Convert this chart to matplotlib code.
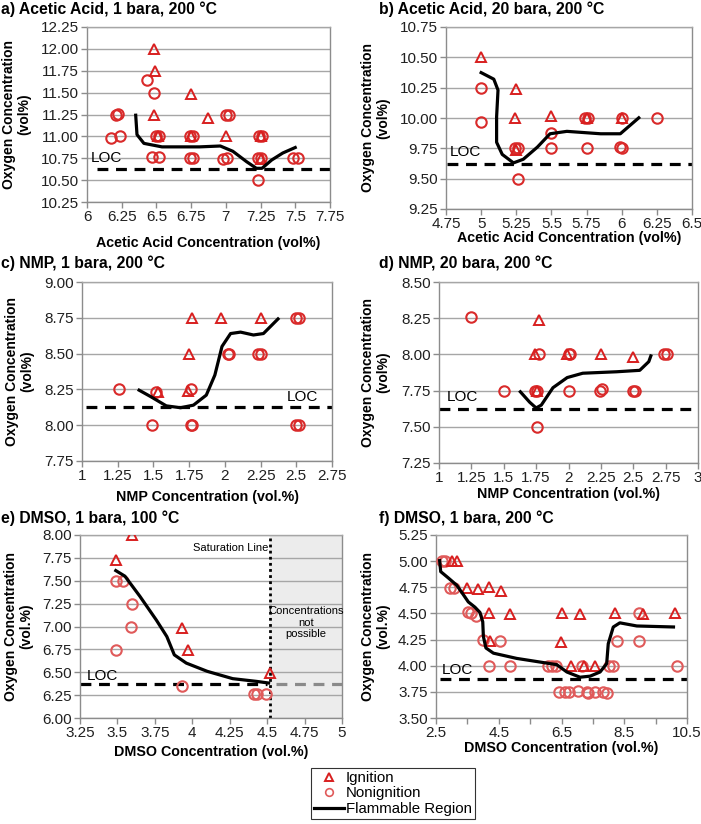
import matplotlib
matplotlib.use('Agg')
import matplotlib.pyplot as plt
from matplotlib.lines import Line2D
from matplotlib.ticker import FixedLocator, FuncFormatter

plt.rcParams['font.family'] = ['Liberation Sans', 'DejaVu Sans']

# a) Acetic acid, 1 bara
a_ign_x = [6.48, 6.49, 6.48, 6.51, 6.75, 6.75, 6.87, 7.0, 7.25, 7.25]
a_ign_y = [12.0, 11.75, 11.25, 11.0, 11.49, 11.0, 11.21, 11.0, 11.0, 10.74]
a_non_x = [6.17, 6.24, 6.21, 6.22, 6.43, 6.48, 6.5, 6.52, 6.47, 6.52, 6.74, 6.76, 6.74,
           6.76, 7.0, 7.02, 6.98, 7.01, 7.24, 7.26, 7.23, 7.25, 7.23, 7.48, 7.52]
a_non_y = [10.98, 11.0, 11.25, 11.26, 11.64, 11.5, 11.0, 11.0, 10.76, 10.76, 11.0, 11.0, 10.75,
           10.75, 11.25, 11.25, 10.74, 10.75, 11.0, 11.0, 10.75, 10.75, 10.5, 10.75, 10.75]
a_curve_x = [6.35, 6.36, 6.41, 6.54, 6.81, 6.96, 7.05, 7.15, 7.22, 7.26, 7.33, 7.41, 7.51]
a_curve_y = [11.26, 11.02, 10.92, 10.88, 10.88, 10.89, 10.83, 10.71, 10.635, 10.635, 10.73, 10.81, 10.88]
a_loc = 10.625

# b) Acetic acid, 20 bara
b_ign_x = [5.0, 5.25, 5.24, 5.25, 5.5, 5.75, 6.0]
b_ign_y = [10.5, 10.24, 10.0, 9.74, 10.02, 10.0, 10.0]
b_non_x = [5.0, 5.0, 5.24, 5.26, 5.26, 5.5, 5.5, 5.74, 5.76, 5.75, 6.0, 5.99, 6.0, 6.25]
b_non_y = [10.25, 9.97, 9.75, 9.75, 9.5, 9.88, 9.75, 10.0, 10.0, 9.75, 10.0, 9.76, 9.75, 10.0]
b_curve_x = [4.99, 5.09, 5.12, 5.11, 5.11, 5.15, 5.23, 5.3, 5.4, 5.49, 5.61, 5.85, 5.99, 6.06, 6.13]
b_curve_y = [10.38, 10.32, 10.23, 10.01, 9.8, 9.7, 9.63, 9.66, 9.76, 9.87, 9.89, 9.87, 9.87, 9.94, 10.01]
b_loc = 9.625

# c) NMP, 1 bara
c_ign_x = [1.53, 1.77, 1.75, 1.74, 1.97, 2.25]
c_ign_y = [8.235, 8.75, 8.5, 8.24, 8.75, 8.75]
c_non_x = [1.26, 1.49, 1.52, 1.76, 1.76, 1.77, 2.02, 2.03, 2.23, 2.25, 2.5, 2.52, 2.5, 2.52]
c_non_y = [8.25, 8.0, 8.23, 8.25, 8.0, 8.0, 8.5, 8.5, 8.5, 8.5, 8.75, 8.75, 8.0, 8.0]
c_curve_x = [1.39, 1.48, 1.59, 1.69, 1.78, 1.87, 1.93, 1.98, 2.04, 2.11, 2.2, 2.27, 2.32, 2.38]
c_curve_y = [8.25, 8.2, 8.135, 8.122, 8.14, 8.21, 8.35, 8.55, 8.64, 8.65, 8.63, 8.64, 8.69, 8.75]
c_loc = 8.125

# d) NMP, 20 bara
d_ign_x = [1.77, 1.74, 1.76, 1.99, 2.25, 2.5]
d_ign_y = [8.24, 8.0, 7.745, 8.0, 8.0, 7.98]
d_non_x = [1.25, 1.77, 1.5, 1.74, 1.76, 1.755, 2.0, 2.01, 2.0, 2.24, 2.26, 2.5, 2.51, 2.74, 2.76]
d_non_y = [8.255, 8.0, 7.75, 7.75, 7.75, 7.5, 8.0, 8.0, 7.75, 7.75, 7.76, 7.75, 7.75, 8.0, 8.0]
d_curve_x = [1.62, 1.70, 1.75, 1.79, 1.88, 1.99, 2.11, 2.37, 2.55, 2.62, 2.64]
d_curve_y = [7.75, 7.67, 7.63, 7.65, 7.77, 7.84, 7.87, 7.88, 7.89, 7.95, 8.0]
d_loc = 7.625

# e) DMSO, 1 bara, 100 C
e_ign_x = [3.6, 3.49, 3.93, 3.97, 4.52]
e_ign_y = [8.0, 7.73, 6.98, 6.74, 6.49]
e_non_x = [3.49, 3.54, 3.6, 3.59, 3.49, 3.93, 4.41, 4.43, 4.49]
e_non_y = [7.5, 7.5, 7.25, 7.0, 6.74, 6.35, 6.26, 6.26, 6.26]
e_curve_x = [3.48, 3.55, 3.65, 3.76, 3.83, 3.88, 3.96, 4.1, 4.27, 4.43, 4.52]
e_curve_y = [7.62, 7.55, 7.33, 7.07, 6.89, 6.69, 6.6, 6.51, 6.43, 6.4, 6.38]
e_loc = 6.375
e_saturation = 4.52

# f) DMSO, 1 bara, 200 C
f_ign_x = [3.0, 3.18, 3.5, 3.85, 4.2, 4.58, 4.2, 4.85, 4.22, 6.52, 7.08, 8.21, 9.11, 10.13,
           6.47, 6.81, 7.22, 7.57]
f_ign_y = [5.0, 5.0, 4.74, 4.73, 4.75, 4.71, 4.5, 4.49, 4.24, 4.5, 4.49, 4.5, 4.49, 4.5,
           4.23, 4.0, 4.0, 4.0]
f_non_x = [2.7, 2.8, 2.95, 3.07, 3.53, 3.62, 3.77, 3.99, 4.54, 4.19, 4.85, 6.06, 6.19, 6.33,
           7.14, 8.02, 8.15, 10.17, 8.28, 8.98, 8.97, 6.43, 6.61, 6.75, 7.02, 7.3, 7.33, 7.57,
           7.83, 7.94]
f_non_y = [5.0, 5.0, 4.74, 4.74, 4.51, 4.5, 4.48, 4.25, 4.24, 4.0, 4.0, 4.0, 4.0, 4.0,
           4.0, 4.0, 4.0, 4.0, 4.24, 4.24, 4.5, 3.75, 3.75, 3.75, 3.76, 3.75, 3.74, 3.75,
           3.75, 3.74]
f_curve_x = [2.61, 2.65, 2.89, 3.16, 3.37, 3.53, 3.74, 3.9, 3.99, 4.01, 4.09, 4.33, 5.07,
             6.35, 6.67, 7.09, 7.41, 7.73, 7.94, 7.99, 8.15, 8.36, 8.9, 10.12]
f_curve_y = [5.02, 4.9, 4.84, 4.77, 4.68, 4.61, 4.56, 4.51, 4.42, 4.28, 4.17, 4.12, 4.07,
             4.01, 3.94, 3.89, 3.9, 3.94, 4.02, 4.21, 4.37, 4.41, 4.38, 4.37]
f_loc = 3.875

IGN = '#d81f1f'
NON = '#d92a2a'
NON_LIGHT = '#e05a5a'
GRID = '#a6a6a6'
SPINE = '#8c8c8c'

W, H = 701, 824
fig = plt.figure(figsize=(W / 100, H / 100), dpi=100)


def px_axes(left, top, right, bottom):
    return fig.add_axes([left / W, 1 - bottom / H, (right - left) / W, (bottom - top) / H])


def gfmt(v, pos):
    return '%g' % v


def setup(ax, xlim, xticks, ylim, yticks, xlabel, ylabel, ylab_px, xlab_px):
    ax.set_xlim(*xlim)
    ax.set_ylim(*ylim)
    ax.set_xticks(xticks)
    ax.set_yticks(yticks)
    ax.xaxis.set_major_formatter(FuncFormatter(gfmt))
    ax.yaxis.set_major_formatter(FuncFormatter(lambda v, p: '%.2f' % v))
    ax.yaxis.grid(True, color=GRID, lw=1)
    ax.set_axisbelow(True)
    for s in ax.spines.values():
        s.set_color(SPINE)
        s.set_linewidth(1)
    ax.spines['top'].set_color(GRID)
    ax.tick_params(direction='out', length=4, width=1, color=SPINE, labelsize=11,
                   pad=2, labelcolor='#202020')
    bb = ax.get_position()
    ax.set_ylabel(ylabel, fontsize=10, fontweight='bold', linespacing=1.1, va='center')
    ax.yaxis.set_label_coords(-ylab_px / (bb.width * W), 0.5)
    ax.set_xlabel(xlabel, fontsize=10.3, fontweight='bold', va='center')
    ax.xaxis.set_label_coords(0.5, -xlab_px / (bb.height * H))


def marks(ax, ix, iy, nx, ny, ncol=NON):
    ax.plot(nx, ny, 'o', ms=7.5, mfc='none', mec=ncol, mew=1.5, zorder=3)
    ax.plot(ix, iy, '^', ms=7.5, mfc='none', mec=IGN, mew=1.4, zorder=3)


def curve(ax, cx, cy):
    ax.plot(cx, cy, color='black', lw=2.3, solid_joinstyle='round', solid_capstyle='butt', zorder=4)


def loc_line(ax, x0, x1, y, color='black'):
    ax.plot([x0, x1], [y, y], color=color, lw=2.3, dashes=(3.4, 2.4), zorder=2)


def title(x, y, s):
    fig.text(x / W, 1 - y / H, s, fontsize=11.3, fontweight='bold', ha='left', va='center')


OXY = 'Oxygen Concentration\n(vol%)'
OXY2 = 'Oxygen Concentration\n(vol.%)'

# a
ax = px_axes(87, 27, 330, 202)
setup(ax, (6, 7.75), [6, 6.25, 6.5, 6.75, 7, 7.25, 7.5, 7.75], (10.25, 12.25),
      [10.25, 10.5, 10.75, 11.0, 11.25, 11.5, 11.75, 12.0, 12.25],
      'Acetic Acid Concentration (vol%)', OXY, 70, 41)
loc_line(ax, 6.07, 7.75, a_loc)
marks(ax, a_ign_x, a_ign_y, a_non_x, a_non_y)
curve(ax, a_curve_x, a_curve_y)
ax.text(6.03, 10.75, 'LOC', fontsize=11, va='center', ha='left')
title(1, 9, 'a) Acetic Acid, 1 bara, 200 °C')

# b
ax = px_axes(446, 27, 692, 209)
setup(ax, (4.75, 6.5), [4.75, 5, 5.25, 5.5, 5.75, 6, 6.25, 6.5], (9.25, 10.75),
      [9.25, 9.5, 9.75, 10.0, 10.25, 10.5, 10.75],
      'Acetic Acid Concentration (vol%)', OXY, 70, 29)
loc_line(ax, 4.76, 6.5, b_loc)
marks(ax, b_ign_x, b_ign_y, b_non_x, b_non_y)
curve(ax, b_curve_x, b_curve_y)
ax.text(4.78, 9.72, 'LOC', fontsize=11, va='center', ha='left')
title(379, 9, 'b) Acetic Acid, 20 bara, 200 °C')

# c
ax = px_axes(82, 282, 332, 461)
setup(ax, (1, 2.75), [1, 1.25, 1.5, 1.75, 2, 2.25, 2.5, 2.75], (7.75, 9.0),
      [7.75, 8.0, 8.25, 8.5, 8.75, 9.0],
      'NMP Concentration (vol.%)', OXY, 62, 36)
loc_line(ax, 1.03, 2.75, c_loc)
marks(ax, c_ign_x, c_ign_y, c_non_x, c_non_y)
curve(ax, c_curve_x, c_curve_y)
ax.text(2.435, 8.197, 'LOC', fontsize=11, va='center', ha='left')
title(1, 263, 'c) NMP, 1 bara, 200 °C')

# d
ax = px_axes(439, 282, 698, 463)
setup(ax, (1, 3), [1, 1.25, 1.5, 1.75, 2, 2.25, 2.5, 2.75, 3], (7.25, 8.5),
      [7.25, 7.5, 7.75, 8.0, 8.25, 8.5],
      'NMP Concentration (vol.%)', OXY, 63, 31)
loc_line(ax, 1.0, 3.0, d_loc)
marks(ax, d_ign_x, d_ign_y, d_non_x, d_non_y)
curve(ax, d_curve_x, d_curve_y)
ax.text(1.062, 7.706, 'LOC', fontsize=11, va='center', ha='left')
title(379, 263, 'd) NMP, 20 bara, 200 °C')

# e
ax = px_axes(80, 535, 342, 718)
setup(ax, (3.25, 5), [3.25, 3.5, 3.75, 4, 4.25, 4.5, 4.75, 5], (6.0, 8.0),
      [6.0, 6.25, 6.5, 6.75, 7.0, 7.25, 7.5, 7.75, 8.0],
      'DMSO Concentration (vol.%)', OXY2, 61, 34)
ax.axvspan(e_saturation, 5, color='#ececec', zorder=0)
ax.axvline(e_saturation, color='black', lw=2, ls=(0, (1, 1.2)), zorder=2)
loc_line(ax, 3.25, 4.5, e_loc)
loc_line(ax, 4.56, 5.0, e_loc, color='#8a8a8a')
marks(ax, e_ign_x, e_ign_y, e_non_x, e_non_y, NON_LIGHT)
curve(ax, e_curve_x, e_curve_y)
ax.text(3.297, 6.459, 'LOC', fontsize=11, va='center', ha='left')
ax.text(4.505, 7.86, 'Saturation Line', fontsize=8, va='center', ha='right')
ax.text(4.76, 7.04, 'Concentrations\nnot\npossible', fontsize=8, va='center', ha='center',
        linespacing=1.2)
title(1, 518, 'e) DMSO, 1 bara, 100 °C')

# f
ax = px_axes(436, 535, 687, 718)
setup(ax, (2.5, 10.5), [2.5, 4.5, 6.5, 8.5, 10.5], (3.5, 5.25),
      [3.5, 3.75, 4.0, 4.25, 4.5, 4.75, 5.0, 5.25],
      'DMSO Concentration (vol.%)', OXY2, 60, 30)
ax.xaxis.set_minor_locator(FixedLocator([3.5, 5.5, 7.5, 9.5]))
ax.tick_params(which='minor', direction='out', length=4, width=1, color=SPINE)
loc_line(ax, 2.63, 10.5, f_loc)
marks(ax, f_ign_x, f_ign_y, f_non_x, f_non_y, NON_LIGHT)
curve(ax, f_curve_x, f_curve_y)
ax.text(2.69, 3.96, 'LOC', fontsize=11, va='center', ha='left')
title(379, 518, 'f) DMSO, 1 bara, 200 °C')

handles = [
    Line2D([], [], ls='none', marker='^', ms=5.5, mfc='none', mec=IGN, mew=1.4),
    Line2D([], [], ls='none', marker='o', ms=5.5, mfc='none', mec=NON_LIGHT, mew=1.2),
    Line2D([], [], color='black', lw=2.3),
]
leg = fig.legend(handles, ['Ignition', 'Nonignition', 'Flammable Region'],
                 loc='upper left', bbox_to_anchor=(311 / W, 1 - 768 / H),
                 fontsize=10.8, frameon=True, fancybox=False, edgecolor='black',
                 handlelength=2.0, handletextpad=0.1, borderpad=0.2,
                 labelspacing=0.1, borderaxespad=0)
leg.get_frame().set_linewidth(0.8)

fig.savefig('out.png', dpi=100)
